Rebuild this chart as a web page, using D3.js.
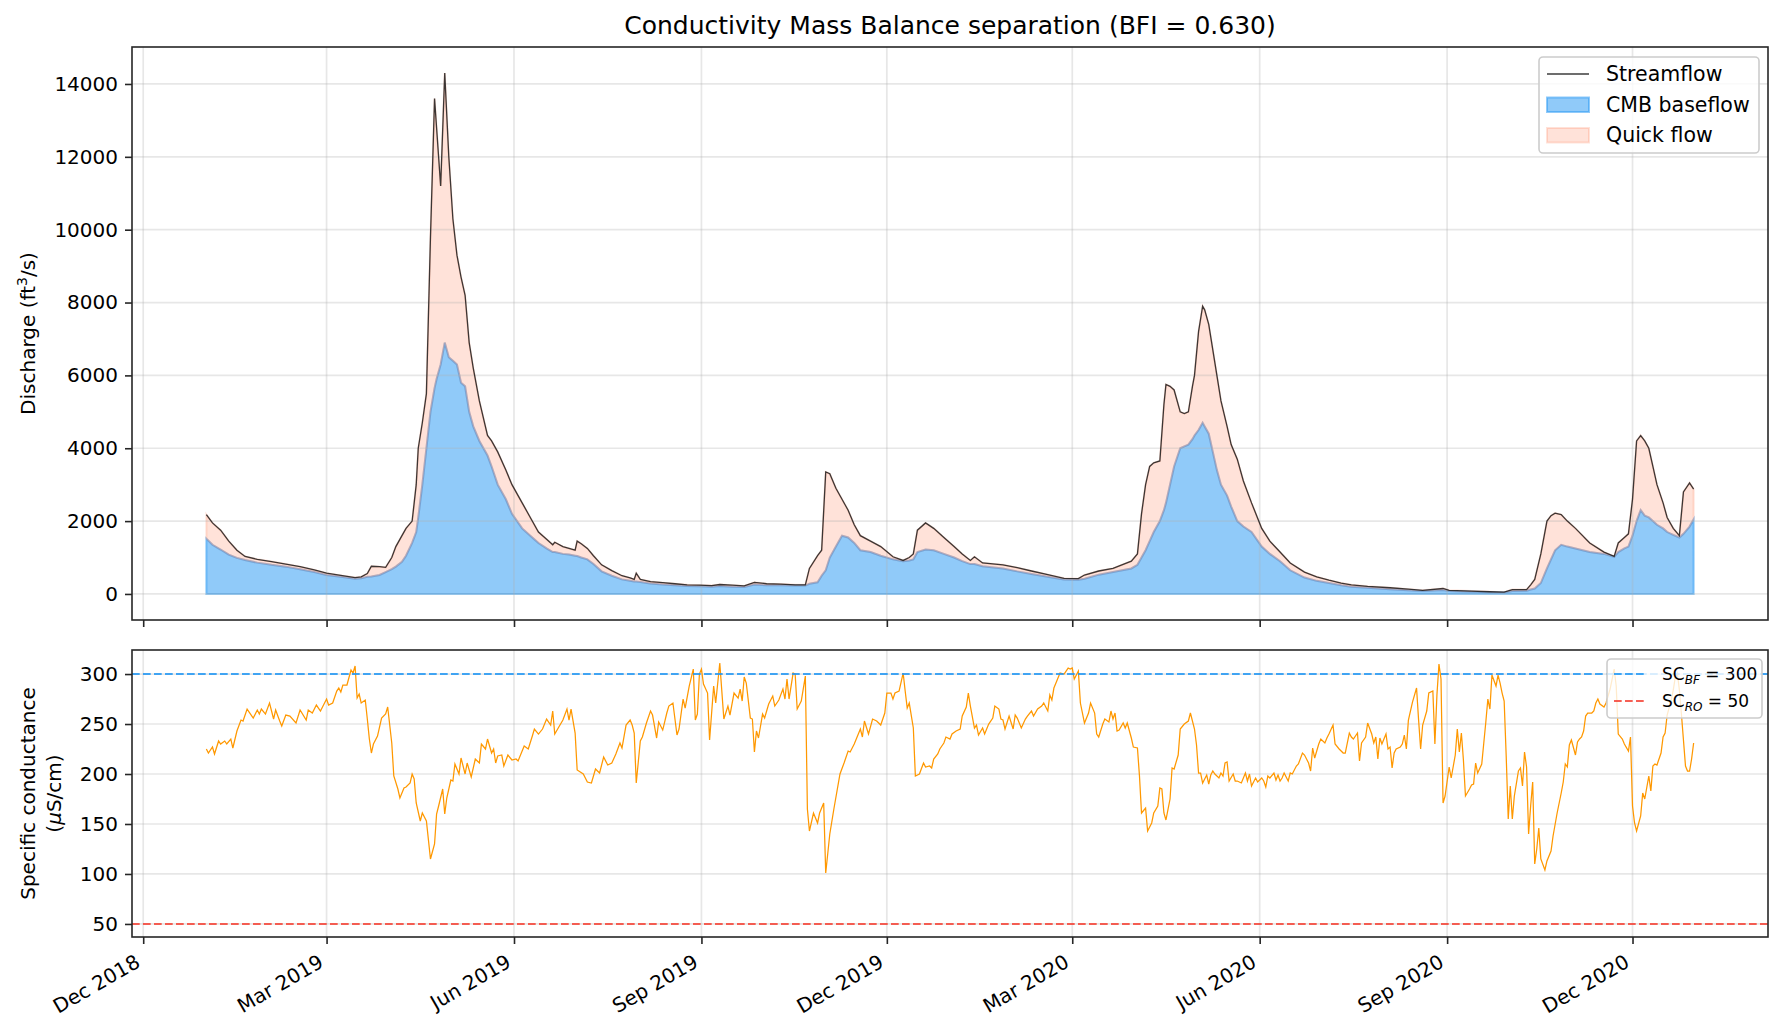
<!DOCTYPE html>
<html>
<head>
<meta charset="utf-8">
<script src="https://cdn.jsdelivr.net/npm/d3@7"></script>
<style>
  body { margin: 0; background: #fff; }
  svg text { font-family: "DejaVu Sans", sans-serif; fill: #000; }
</style>
</head>
<body>
<div id="cmb-chart"></div>
<script>
/* ----------------------- Data ----------------------- */
// days since 2019-01-01
const flowDays = [0,3,7,11,15,19,25,32,39,46,53,59,66,73,76,79,81,85,88,91,
  93,96,98,101,103,104,106,108,110,112,113,115,117,119,121,123,125,127,129,131,
  134,138,140,143,147,150,155,159,163,167,170,171,175,178,181,182,184,187,190,194,
  199,204,208,210,211,213,218,224,230,236,242,248,252,258,264,269,275,282,289,294,
  296,300,302,304,306,309,312,315,318,321,326,331,337,342,345,347,349,353,357,362,
  367,371,375,377,381,391,398,405,413,421,428,431,438,445,454,457,459,461,463,465,
  468,470,471,473,475,478,480,482,484,485,487,489,490,492,494,496,498,501,503,506,
  509,513,518,522,527,532,539,545,551,557,562,570,581,590,597,607,610,621,630,637,
  641,648,650,652,655,658,660,662,665,668,672,679,686,691,693,696,698,700,702,704,
  706,708,710,712,715,717,720,723,725,728,730];

// ft3/s
const streamflow = [2180,1950,1750,1450,1200,1030,950,890,820,750,660,570,510,450,470,560,760,750,730,1000,
  1300,1600,1800,2000,3000,4000,4700,5500,9800,13600,12800,11200,14300,12000,10300,9300,8700,8200,6900,6200,
  5300,4350,4200,3900,3400,3000,2500,2100,1700,1500,1350,1420,1300,1250,1200,1450,1380,1250,1050,800,
  640,500,440,400,570,400,340,310,280,250,240,230,260,240,220,320,280,270,250,250,
  700,1050,1200,3350,3300,2900,2600,2300,1900,1600,1450,1300,1020,920,1000,1100,1750,1950,1800,1550,
  1300,1100,920,1020,850,800,720,630,530,430,420,520,630,700,900,1100,2200,3000,3500,3600,
  3650,5200,5750,5700,5600,5000,4950,5000,5700,6000,7200,7900,7800,7400,6700,6000,5300,4600,4100,3700,
  3100,2500,1800,1450,1150,850,600,470,380,300,250,210,170,130,100,150,100,80,60,50,
  120,120,250,400,1100,2000,2150,2220,2180,2000,1800,1400,1150,1030,1400,1550,1650,2600,4200,4350,
  4200,4000,3500,3000,2500,2100,1800,1600,2800,3050,2880];

const baseflow = [1520,1350,1220,1080,990,930,860,800,750,680,600,520,470,420,430,470,480,520,600,680,
  750,880,1050,1400,1700,2100,3000,4000,5000,5650,5900,6300,6900,6500,6400,6300,5800,5700,5000,4600,
  4200,3800,3500,3000,2600,2200,1800,1600,1400,1250,1150,1150,1100,1080,1050,1040,1000,950,820,620,
  500,400,360,340,340,330,290,260,240,220,210,200,220,200,190,260,240,240,230,230,
  280,320,500,650,1000,1300,1600,1550,1400,1200,1150,1050,950,900,920,950,1150,1220,1200,1100,
  1000,900,820,820,760,700,620,550,470,400,390,420,530,600,700,800,1000,1200,1450,1700,
  2000,2300,2500,3000,3500,4000,4050,4100,4250,4350,4500,4700,4600,4400,3900,3400,3000,2700,2400,2000,
  1850,1700,1300,1100,900,650,450,360,300,240,200,170,130,100,80,110,80,60,50,40,
  80,90,120,150,300,700,950,1200,1350,1300,1250,1150,1100,1020,1150,1250,1300,1600,2000,2300,
  2150,2100,2000,1900,1800,1700,1620,1550,1650,1850,2050];

// [days since 2019-01-01, specific conductance uS/cm]
const conductance = [[0,225],[1,221],[3,227],[4,220],[6,233],[7,230],[9,233],[10,230],[12,235],[13,226],
  [15,243],[17,254],[18,253],[20,265],[21,262],[23,256],[25,264],[26,260],[27,265],[29,260],[31,271],[33,255],
  [34,264],[36,253],[37,248],[39,259],[41,258],[44,251],[46,264],[49,254],[50,264],[52,261],[54,269],[56,263],
  [59,275],[60,269],[62,271],[64,283],[65,286],[66,282],[67,289],[69,289],[71,304],[72,301],[73,308],[74,276],
  [75,280],[76,271],[78,274],[79,255],[80,235],[81,221],[82,230],[84,238],[86,256],[88,260],[89,267],[91,231],
  [92,198],[94,185],[95,176],[97,186],[98,187],[100,191],[101,200],[102,195],[103,171],[105,153],[106,161],
  [108,153],[110,115],[112,130],[113,160],[114,168],[116,185],[117,160],[118,176],[120,194],[121,193],[122,210],
  [124,200],[125,216],[127,200],[128,211],[130,197],[132,215],[134,211],[135,230],[137,225],[138,235],[140,221],
  [141,225],[142,211],[143,218],[145,219],[146,208],[148,219],[150,214],[152,215],[153,213],[156,228],[158,225],
  [160,238],[161,245],[163,240],[165,245],[167,255],[169,249],[170,263],[171,240],[173,247],[175,254],[177,265],
  [178,254],[179,265],[181,241],[182,204],[185,200],[187,192],[189,191],[191,205],[193,201],[195,217],[197,209],
  [199,211],[201,220],[203,231],[204,226],[206,249],[208,254],[209,249],[210,241],[211,191],[213,233],[214,237],
  [216,251],[218,263],[219,259],[221,236],[222,252],[224,244],[226,261],[227,268],[229,271],[231,239],[232,245],
  [234,275],[235,266],[237,288],[239,305],[240,254],[241,260],[242,300],[243,305],[244,290],[246,281],[247,234],
  [249,288],[250,271],[252,311],[254,255],[256,268],[257,259],[259,281],[261,276],[262,285],[263,273],[264,297],
  [265,291],[267,256],[268,255],[269,222],[270,243],[271,236],[273,260],[274,256],[276,270],[278,278],[279,268],
  [281,274],[283,285],[284,275],[285,295],[286,275],[288,301],[289,300],[290,265],[292,273],[294,298],[295,165],
  [296,143],[298,161],[300,151],[301,161],[303,171],[304,101],[306,140],[308,165],[311,200],[313,211],[315,223],
  [316,222],[318,230],[321,245],[322,237],[323,253],[325,240],[327,255],[329,253],[331,249],[333,261],[334,281],
  [336,281],[337,275],[338,281],[340,283],[342,301],[343,283],[344,266],[345,271],[347,246],[348,198],[350,200],
  [352,211],[353,207],[355,208],[356,206],[357,215],[359,220],[360,225],[362,231],[363,237],[365,235],[366,240],
  [368,243],[370,245],[371,258],[373,267],[374,281],[375,268],[377,246],[378,249],[379,239],[381,246],[382,240],
  [384,250],[386,256],[387,268],[389,265],[390,255],[391,254],[392,245],[394,258],[396,245],[397,259],[398,256],
  [400,246],[402,255],[403,258],[405,263],[406,258],[408,265],[410,268],[411,271],[413,263],[414,279],[415,274],
  [416,286],[417,291],[419,301],[421,300],[423,306],[424,305],[425,306],[426,295],[428,303],[429,271],[431,251],
  [433,261],[434,271],[436,261],[437,240],[438,237],[440,250],[441,255],[443,252],[444,263],[445,255],[446,261],
  [447,243],[448,244],[450,251],[451,246],[452,251],[454,236],[455,227],[457,226],[458,198],[459,161],[461,166],
  [462,143],[464,151],[465,161],[467,168],[468,186],[469,185],[470,161],[471,154],[473,175],[474,206],[475,205],
  [477,219],[478,245],[480,250],[482,253],[483,261],[485,245],[486,229],[487,201],[488,201],[489,191],[491,199],
  [492,190],[493,199],[494,203],[495,200],[497,196],[498,201],[499,198],[500,211],[501,212],[502,193],[504,200],
  [505,193],[506,193],[508,191],[509,196],[510,201],[511,193],[512,200],[513,188],[515,196],[516,192],[518,196],
  [519,193],[520,187],[521,198],[522,196],[524,201],[525,194],[526,199],[527,193],[528,196],[529,201],[531,193],
  [532,201],[533,200],[535,208],[536,210],[538,221],[539,219],[541,211],[542,203],[543,226],[544,216],[546,230],
  [547,235],[549,231],[550,236],[551,240],[553,249],[554,230],[556,225],[558,221],[559,221],[561,241],[562,237],
  [563,235],[565,241],[566,213],[567,231],[569,237],[570,251],[572,240],[573,231],[574,237],[575,215],[576,236],
  [577,230],[579,240],[580,225],[581,227],[582,206],[583,221],[584,225],[586,227],[587,230],[588,239],[589,225],
  [590,254],[592,272],[594,286],[595,254],[596,225],[597,249],[599,263],[600,281],[602,283],[603,230],[604,279],
  [605,310],[606,295],[607,171],[608,178],[610,207],[611,196],[613,219],[614,245],[615,222],[616,241],[617,214],
  [618,178],[620,185],[621,189],[622,190],[623,211],[624,201],[626,210],[627,231],[628,252],[629,275],[630,265],
  [631,299],[633,288],[634,299],[635,291],[636,281],[637,273],[638,218],[639,155],[640,188],[641,155],[642,178],
  [644,203],[645,206],[646,188],[647,222],[648,207],[649,140],[650,168],[651,192],[652,110],[653,125],[654,146],
  [655,115],[657,104],[658,113],[660,123],[661,138],[663,161],[665,181],[666,192],[667,210],[668,207],[669,229],
  [670,234],[672,219],[673,232],[674,235],[675,237],[676,243],[677,258],[678,261],[680,261],[681,263],[682,271],
  [683,275],[684,270],[686,267],[687,271],[689,285],[691,305],[692,288],[693,240],[695,235],[696,230],[698,223],
  [699,237],[700,168],[701,151],[702,143],[704,158],[705,181],[706,175],[708,198],[709,183],[710,208],[711,210],
  [712,209],[714,221],[715,237],[716,241],[717,259],[719,274],[720,284],[721,297],[722,301],[723,284],[724,260],
  [726,208],[727,203],[728,203],[729,215],[730,231]];

const scBaseflow = 300;
const scRunoff = 50;
const bfi = 0.630;

const dischargeTicks = [0, 2000, 4000, 6000, 8000, 10000, 12000, 14000];
const scTicks = [50, 100, 150, 200, 250, 300];
const monthTicks = ["2018-12-01", "2019-03-01", "2019-06-01", "2019-09-01", "2019-12-01",
  "2020-03-01", "2020-06-01", "2020-09-01", "2020-12-01"];

(function () {
  /* ----------------------- Dimensions ----------------------- */
  const W = 1785, H = 1035;
  const left = 132, right = 1768;
  const top1 = 47, bottom1 = 620;   // discharge panel
  const top2 = 650, bottom2 = 937;  // conductance panel
  const font = "DejaVu Sans";
  const spine = "#262626";

  const svg = d3.select("#cmb-chart").append("svg")
    .attr("width", W).attr("height", H)
    .attr("viewBox", `0 0 ${W} ${H}`);

  /* ----------------------- Scales ----------------------- */
  const start = new Date(Date.UTC(2019, 0, 1));
  const dayMs = 864e5;
  const toDate = (d) => new Date(start.getTime() + d * dayMs);
  const pad = 730 * 0.05;
  const x = d3.scaleUtc().domain([toDate(-pad), toDate(730 + pad)]).range([left, right]);
  const yQ = d3.scaleLinear().domain([-715, 15015]).range([bottom1, top1]);
  const ySC = d3.scaleLinear().domain([36.95, 324.05]).range([bottom2, top2]);
  const tickDates = monthTicks.map((s) => new Date(s + "T00:00:00Z"));

  const flow = flowDays.map((d, i) => ({ date: toDate(d), q: streamflow[i], bf: baseflow[i] }));
  const sc = conductance.map(([d, v]) => ({ date: toDate(d), v }));

  // clip paths
  const defs = svg.append("defs");
  defs.append("clipPath").attr("id", "clip-top").append("rect")
    .attr("x", left).attr("y", top1).attr("width", right - left).attr("height", bottom1 - top1);
  defs.append("clipPath").attr("id", "clip-bot").append("rect")
    .attr("x", left).attr("y", top2).attr("width", right - left).attr("height", bottom2 - top2);

  /* ----------------------- Discharge panel ----------------------- */
  const topPlot = svg.append("g").attr("clip-path", "url(#clip-top)");

  topPlot.append("path")
    .datum(flow)
    .attr("d", d3.area().x((d) => x(d.date)).y0(yQ(0)).y1((d) => yQ(d.bf)))
    .attr("fill", "#2196F3").attr("fill-opacity", 0.5)
    .attr("stroke", "#2196F3").attr("stroke-opacity", 0.5).attr("stroke-width", 2);

  topPlot.append("path")
    .datum(flow)
    .attr("d", d3.area().x((d) => x(d.date)).y0((d) => yQ(d.bf)).y1((d) => yQ(d.q)))
    .attr("fill", "#FF7043").attr("fill-opacity", 0.2)
    .attr("stroke", "#FF7043").attr("stroke-opacity", 0.2).attr("stroke-width", 2);

  // grid
  const grid = (g, yScale, yTicks, y0, y1) => {
    g.selectAll(".gy").data(yTicks).enter().append("line")
      .attr("x1", left).attr("x2", right)
      .attr("y1", (d) => yScale(d)).attr("y2", (d) => yScale(d))
      .attr("stroke", "#b0b0b0").attr("stroke-opacity", 0.3).attr("stroke-width", 1.7);
    g.selectAll(".gx").data(tickDates).enter().append("line")
      .attr("x1", (d) => x(d)).attr("x2", (d) => x(d))
      .attr("y1", y0).attr("y2", y1)
      .attr("stroke", "#b0b0b0").attr("stroke-opacity", 0.3).attr("stroke-width", 1.7);
  };
  grid(topPlot.append("g"), yQ, dischargeTicks, top1, bottom1);

  topPlot.append("path")
    .datum(flow)
    .attr("d", d3.line().x((d) => x(d.date)).y((d) => yQ(d.q)))
    .attr("fill", "none").attr("stroke", "#1a1a1a").attr("stroke-opacity", 0.85).attr("stroke-width", 1.3);

  /* ----------------------- Conductance panel ----------------------- */
  const botPlot = svg.append("g").attr("clip-path", "url(#clip-bot)");
  grid(botPlot.append("g"), ySC, scTicks, top2, bottom2);

  botPlot.append("path")
    .datum(sc)
    .attr("d", d3.line().x((d) => x(d.date)).y((d) => ySC(d.v)))
    .attr("fill", "none").attr("stroke", "#FF9800").attr("stroke-width", 1.25);

  const refLines = [
    { value: scBaseflow, color: "#2196F3", sub: "BF" },
    { value: scRunoff, color: "#F44336", sub: "RO" },
  ];
  botPlot.selectAll(".ref").data(refLines).enter().append("line")
    .attr("x1", left).attr("x2", right)
    .attr("y1", (d) => ySC(d.value)).attr("y2", (d) => ySC(d.value))
    .attr("stroke", (d) => d.color).attr("stroke-opacity", 0.85)
    .attr("stroke-width", 2).attr("stroke-dasharray", "7.7,3.3");

  /* ----------------------- Axes ----------------------- */
  const styleAxis = (g) => {
    g.attr("font-family", font).attr("font-size", 20);
    g.select(".domain").remove();
    g.selectAll(".tick line").attr("stroke", spine).attr("stroke-width", 1.6);
    g.selectAll(".tick text").attr("fill", "#000");
  };

  svg.append("g").attr("transform", `translate(${left},0)`)
    .call(d3.axisLeft(yQ).tickValues(dischargeTicks).tickSize(7).tickPadding(7).tickFormat(d3.format("d")))
    .call(styleAxis);

  svg.append("g").attr("transform", `translate(${left},0)`)
    .call(d3.axisLeft(ySC).tickValues(scTicks).tickSize(7).tickPadding(7).tickFormat(d3.format("d")))
    .call(styleAxis);

  svg.append("g").attr("transform", `translate(0,${bottom1})`)
    .call(d3.axisBottom(x).tickValues(tickDates).tickSize(7).tickFormat(""))
    .call(styleAxis);

  const xb = svg.append("g").attr("transform", `translate(0,${bottom2})`)
    .call(d3.axisBottom(x).tickValues(tickDates).tickSize(7).tickFormat(d3.utcFormat("%b %Y")))
    .call(styleAxis);
  xb.selectAll(".tick text")
    .attr("x", 0).attr("y", 0).attr("dy", 0)
    .attr("text-anchor", "end")
    .attr("transform", "translate(-2.3,29) rotate(-30)");

  // spines
  [[top1, bottom1], [top2, bottom2]].forEach(([a, b]) => {
    svg.append("rect")
      .attr("x", left).attr("y", a).attr("width", right - left).attr("height", b - a)
      .attr("fill", "none").attr("stroke", spine).attr("stroke-width", 1.6);
  });

  /* ----------------------- Labels ----------------------- */
  svg.append("text")
    .attr("x", (left + right) / 2).attr("y", 34)
    .attr("text-anchor", "middle").attr("font-size", 25)
    .text(`Conductivity Mass Balance separation (BFI = ${bfi.toFixed(3)})`);

  const yl = svg.append("text")
    .attr("transform", `translate(35,${(top1 + bottom1) / 2}) rotate(-90)`)
    .attr("text-anchor", "middle").attr("font-size", 20);
  yl.append("tspan").text("Discharge (ft");
  yl.append("tspan").attr("font-size", 14).attr("dy", -8).text("3");
  yl.append("tspan").attr("dy", 8).text("/s)");

  const yl2 = svg.append("text")
    .attr("transform", `translate(0,${(top2 + bottom2) / 2}) rotate(-90)`)
    .attr("text-anchor", "middle").attr("font-size", 20);
  yl2.append("tspan").attr("x", 0).attr("y", 35).text("Specific conductance");
  const l2 = yl2.append("tspan").attr("x", 0).attr("y", 61);
  l2.text("(");
  yl2.append("tspan").attr("font-style", "italic").text("μ");
  yl2.append("tspan").text("S/cm)");

  /* ----------------------- Legends ----------------------- */
  const lg = svg.append("g");
  lg.append("rect")
    .attr("x", 1539).attr("y", 57).attr("width", 220).attr("height", 96).attr("rx", 4)
    .attr("fill", "#fff").attr("fill-opacity", 0.8).attr("stroke", "#cccccc").attr("stroke-width", 1.6);
  const legendItems = [
    { label: "Streamflow", type: "line" },
    { label: "CMB baseflow", type: "patch", color: "#2196F3", alpha: 0.5 },
    { label: "Quick flow", type: "patch", color: "#FF7043", alpha: 0.2 },
  ];
  legendItems.forEach((d, i) => {
    const cy = 74 + i * 30.5;
    if (d.type === "line") {
      lg.append("line").attr("x1", 1547).attr("x2", 1589).attr("y1", cy).attr("y2", cy)
        .attr("stroke", "#1a1a1a").attr("stroke-opacity", 0.85).attr("stroke-width", 1.3);
    } else {
      lg.append("rect").attr("x", 1547).attr("y", cy - 7).attr("width", 42).attr("height", 14.5)
        .attr("fill", d.color).attr("fill-opacity", d.alpha)
        .attr("stroke", d.color).attr("stroke-opacity", d.alpha).attr("stroke-width", 2);
    }
    lg.append("text").attr("x", 1606).attr("y", cy).attr("dy", "0.36em")
      .attr("font-size", 20.5).text(d.label);
  });

  const lg2 = svg.append("g");
  lg2.append("rect")
    .attr("x", 1607).attr("y", 659).attr("width", 155).attr("height", 59).attr("rx", 4)
    .attr("fill", "#fff").attr("fill-opacity", 0.8).attr("stroke", "#cccccc").attr("stroke-width", 1.6);
  refLines.forEach((d, i) => {
    const cy = 674 + i * 27;
    lg2.append("line").attr("x1", 1614).attr("x2", 1647).attr("y1", cy).attr("y2", cy)
      .attr("stroke", d.color).attr("stroke-opacity", 0.85)
      .attr("stroke-width", 2).attr("stroke-dasharray", "7.7,3.3");
    const t = lg2.append("text").attr("x", 1662).attr("y", cy + 6).attr("font-size", 17);
    t.append("tspan").text("SC");
    t.append("tspan").attr("font-style", "italic").attr("font-size", 12).attr("dy", 4).text(d.sub);
    t.append("tspan").attr("dy", -4).text(` = ${d.value}`);
  });
})();
</script>
</body>
</html>
